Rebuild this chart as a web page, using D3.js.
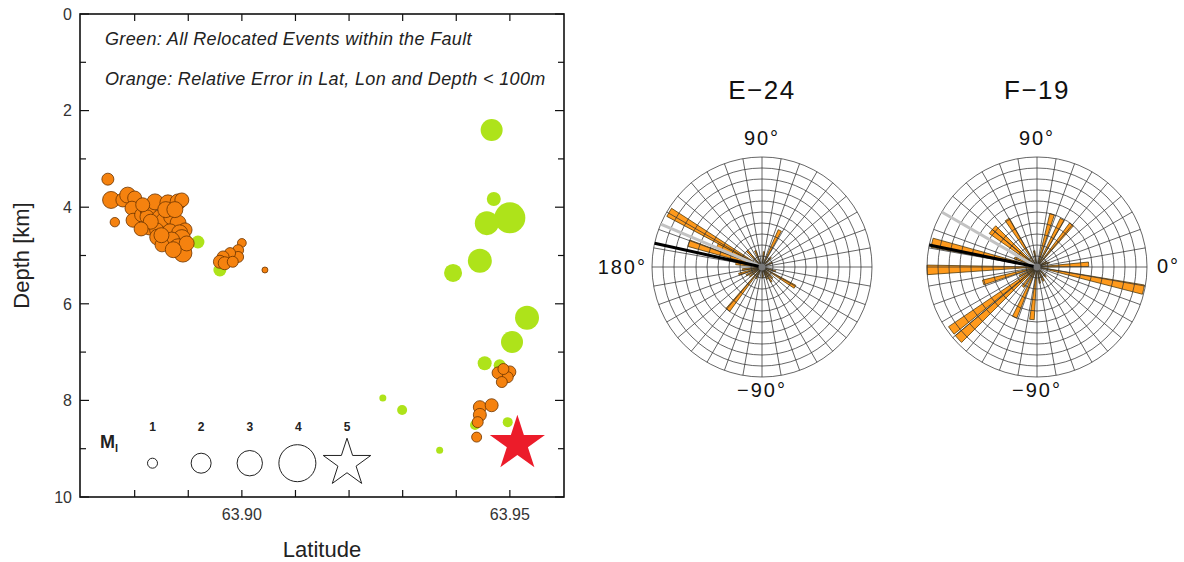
<!DOCTYPE html>
<html><head><meta charset="utf-8">
<script src="https://cdn.jsdelivr.net/npm/d3@7"></script>
<style>
body{margin:0;background:#fff}
svg{display:block;font-family:"Liberation Sans",Arial,Helvetica,sans-serif}
</style>
</head><body>
<svg id="c" width="1184" height="562"></svg>
<script>
// ---------- data: depth section ----------
const greenLat   = [63.8918,63.8959,63.9466,63.9470,63.9500,63.9457,63.9444,63.9394,63.9532,63.9504,63.9453,63.9481,63.9496,63.9435,63.9369,63.9263,63.9299];
const greenDepth = [4.72,5.30,2.40,3.83,4.22,4.33,5.11,5.36,6.29,6.79,7.23,7.27,8.45,8.51,9.03,7.95,8.20];
const greenMag   = [1.3,1.3,2.37,1.4,3.48,2.74,2.74,1.8,2.74,2.37,1.4,1.2,1.0,1.0,0.5,0.5,1.0];

const orangeLat = [63.8750,63.8756,63.8778,63.8787,63.8800,63.8763,63.8795,63.8797,63.8813,63.8825,63.8838,63.8862,63.8881,63.8888,63.8823,63.8847,63.8853,63.8869,63.8828,63.8841,63.8881,63.8894,63.8866,63.8884,63.8843,63.8888,63.8869,63.8851,63.8881,63.8890,
  63.8815,63.8858,63.8875,63.8830,63.8897,63.8872,63.8812,63.8850,
  63.9000,63.8993,63.8993,63.8978,63.8965,63.8959,63.8968,63.8983,63.9043,
  63.9478,63.9500,63.9496,63.9485,63.9444,63.9466,63.9444,63.9440,63.9438,63.9488];
const orangeDepth = [3.42,3.85,3.85,3.75,3.81,4.31,4.02,4.27,4.16,4.06,3.89,3.91,3.89,3.85,4.20,4.22,4.27,4.20,4.41,4.47,4.33,4.47,4.51,4.53,4.62,4.64,4.68,4.78,4.84,4.95,
  3.95,4.05,4.05,4.30,4.75,4.88,4.45,4.58,
  4.74,4.89,5.03,4.95,5.03,5.13,5.16,5.13,5.30,
  7.43,7.41,7.52,7.62,8.14,8.10,8.30,8.45,8.76,7.35];
const orangeMag = [1.2,1.7,1.4,1.6,1.4,0.9,1.4,1.4,1.4,1.6,1.6,1.6,1.6,1.4,1.4,1.6,1.4,1.6,1.6,1.4,1.6,1.4,1.6,1.6,1.6,1.7,1.6,1.4,1.8,1.8,
  1.4,1.6,1.6,1.5,1.5,1.6,1.4,1.5,
  0.8,1.1,1.1,1.1,1.2,1.3,1.3,1.1,0.33,
  1.2,1.2,1.1,1.1,1.3,1.3,1.3,1.1,1.0,1.1];

const mainLat = [63.9514];
const mainDepth = [8.90];

const latTicks = [63.88,63.89,63.90,63.91,63.92,63.93,63.94,63.95];
const latLabels = ["63.90","63.95"];
const depthTicks = [0,1,2,3,4,5,6,7,8,9,10];
const depthLabels = ["0","2","4","6","8","10"];
const legendMags = [1,2,3,4];
const legendStarMag = 5;

const note1 = "Green: All Relocated Events within the Fault";
const note2 = "Orange: Relative Error in Lat, Lon and Depth < 100m";

// ---------- data: rose diagrams ----------
const roseTitles = ["E\u221224","F\u221219"];
const e24Angle = [149.5,154.5,162,231.5,64,329,187.5,197.5,207.5,217.5,242.5,272.5,292.5,302.5,312.5,342.5,22.5,47.5,82.5,112.5,132.5,172.5];
const e24Value = [9.8,4.5,7.0,5.0,3.7,3.5,1.8,2.2,1.6,1.4,1.2,1.0,1.2,1.6,1.4,1.3,1.0,1.2,1.4,1.6,2.0,2.4];
const e24Gray = 157, e24Black = 167.5;
const f19Angle = [167,181.5,196,216.5,222.5,246,264.5,137.5,142.5,122,74,62,51,3,348,207,235,280,295,312,20,100,158,30];
const f19Value = [9.8,10,5.1,9.7,9.7,5.0,4.8,5.3,5.3,5.1,5.0,4.9,5.0,4.7,9.9,1.8,2.2,1.5,1.4,1.2,1.2,1.5,2.2,1.0];
const f19Gray = 150, f19Black = 168.5;

// ---------- drawing ----------
const svg = d3.select("#c");
svg.append("rect").attr("width",1184).attr("height",562).attr("fill","#fff");

const L = 80, R = 564, T = 14, B = 497;
const x = d3.scaleLinear().domain([63.8698,63.9601]).range([L,R]);
const y = d3.scaleLinear().domain([0,10]).range([T,B]);
const rad = d3.scaleLinear().domain([0,1,2,3,4]).range([2,5,10,12.7,18.5]);
const ink = "#222";

const gPlot = svg.append("g");

// annotations
gPlot.append("text").attr("x",105).attr("y",45).attr("font-size",18).attr("font-style","italic")
  .attr("letter-spacing",0.35).attr("fill",ink).text(note1);
gPlot.append("text").attr("x",105).attr("y",85).attr("font-size",18).attr("font-style","italic")
  .attr("letter-spacing",0.35).attr("fill",ink).text(note2);

// green events
gPlot.append("g").selectAll("circle").data(greenLat).join("circle")
  .attr("cx",(d)=>x(d)).attr("cy",(d,i)=>y(greenDepth[i])).attr("r",(d,i)=>rad(greenMag[i]))
  .attr("fill","#aee31a");
// orange events
gPlot.append("g").selectAll("circle").data(orangeLat).join("circle")
  .attr("cx",(d)=>x(d)).attr("cy",(d,i)=>y(orangeDepth[i])).attr("r",(d,i)=>rad(orangeMag[i]))
  .attr("fill","#f5820f").attr("stroke","#6b3300").attr("stroke-width",0.8);
// mainshock star
const starSize = (Rout)=>Rout*Rout/0.8908130915;
gPlot.append("g").selectAll("path").data(mainLat).join("path")
  .attr("transform",(d,i)=>`translate(${x(d)},${y(mainDepth[i])})`)
  .attr("d",d3.symbol(d3.symbolStar, starSize(29)))
  .attr("fill","#ec1c2a");

// legend
const legY = y(9.3), labY = 431;
const legX = d3.scaleLinear().domain([1,5]).range([152.5,347]);
gPlot.append("text").attr("x",100).attr("y",448).attr("font-size",18).attr("font-weight","bold").attr("fill",ink)
  .text("M").append("tspan").attr("font-size",11).attr("dy",4).text("l");
gPlot.append("g").selectAll("circle").data(legendMags).join("circle")
  .attr("cx",d=>legX(d)+(d===4?-1:0)).attr("cy",legY).attr("r",d=>rad(d))
  .attr("fill","none").attr("stroke",ink).attr("stroke-width",1);
gPlot.append("path").attr("transform",`translate(${legX(legendStarMag)},${legY})`)
  .attr("d",d3.symbol(d3.symbolStar, starSize(25))).attr("fill","#fff").attr("stroke",ink).attr("stroke-width",1);
gPlot.append("g").selectAll("text").data(legendMags.concat([legendStarMag])).join("text")
  .attr("x",d=>legX(d)).attr("y",labY).attr("text-anchor","middle").attr("font-size",12)
  .attr("font-weight","bold").attr("fill",ink).text(d=>d);

// frame
gPlot.append("rect").attr("x",L).attr("y",T).attr("width",R-L).attr("height",B-T)
  .attr("fill","none").attr("stroke","#111").attr("stroke-width",1.6);
const xt = gPlot.append("g").attr("stroke","#111").attr("stroke-width",1.2);
latTicks.forEach(v=>{
  xt.append("line").attr("x1",x(v)).attr("x2",x(v)).attr("y1",B).attr("y2",B-7);
  xt.append("line").attr("x1",x(v)).attr("x2",x(v)).attr("y1",T).attr("y2",T+7);
});
depthTicks.forEach(v=>{
  const len = v%2===0 ? 9 : 6;
  xt.append("line").attr("x1",L).attr("x2",L+len).attr("y1",y(v)).attr("y2",y(v));
  xt.append("line").attr("x1",R).attr("x2",R-len).attr("y1",y(v)).attr("y2",y(v));
});
gPlot.append("g").selectAll("text").data(latLabels).join("text")
  .attr("x",d=>x(+d)).attr("y",520).attr("text-anchor","middle").attr("font-size",16).attr("fill","#333").text(d=>d);
gPlot.append("g").selectAll("text").data(depthLabels).join("text")
  .attr("x",72).attr("y",d=>y(+d)).attr("dy","0.36em").attr("text-anchor","end").attr("font-size",16).attr("fill","#333").text(d=>d);
gPlot.append("text").attr("x",(L+R)/2).attr("y",557).attr("text-anchor","middle").attr("font-size",22).attr("fill",ink).text("Latitude");
gPlot.append("text").attr("transform",`translate(29,${(T+B)/2}) rotate(-90)`).attr("text-anchor","middle")
  .attr("font-size",22).attr("fill",ink).text("Depth [km]");

// ---------- rose diagrams ----------
const RR = 110;
const rs = d3.scaleLinear().domain([0,10]).range([0,RR]);
const toRad = a => a*Math.PI/180;
function rose(cx, cy, title, angles, values, grayA, blackA, showLeft, showRight){
  const g = svg.append("g").attr("transform",`translate(${cx},${cy})`);
  const arc = d3.arc().innerRadius(0);
  g.append("g").selectAll("path").data(angles).join("path")
    .attr("d",(a,i)=>arc({outerRadius:rs(values[i]), startAngle:toRad(90-(a+2.5)), endAngle:toRad(90-(a-2.5))}))
    .attr("fill","#ff9a1c").attr("stroke","#3a2a00").attr("stroke-width",0.7);
  const grid = g.append("g").attr("fill","none").attr("stroke","#333").attr("stroke-width",0.75);
  grid.selectAll("circle").data(d3.range(1,11)).join("circle").attr("r",d=>rs(d));
  grid.selectAll("line").data(d3.range(0,360,10)).join("line")
    .attr("x1",0).attr("y1",0).attr("x2",a=>RR*Math.cos(toRad(a))).attr("y2",a=>-RR*Math.sin(toRad(a)));
  g.append("line").attr("x1",0).attr("y1",0).attr("x2",RR*Math.cos(toRad(grayA))).attr("y2",-RR*Math.sin(toRad(grayA)))
    .attr("stroke","#c2c2c2").attr("stroke-width",3);
  g.append("line").attr("x1",0).attr("y1",0).attr("x2",RR*Math.cos(toRad(blackA))).attr("y2",-RR*Math.sin(toRad(blackA)))
    .attr("stroke","#000").attr("stroke-width",3);
  g.append("circle").attr("r",3.5).attr("fill","#777");
  g.append("text").attr("x",0).attr("y",-168).attr("text-anchor","middle").attr("font-size",26).attr("letter-spacing",1.5).attr("fill","#111").text(title);
  g.append("text").attr("x",0).attr("y",-122).attr("text-anchor","middle").attr("font-size",20).attr("letter-spacing",2).attr("fill","#111").text("90°");
  g.append("text").attr("x",0).attr("y",130).attr("text-anchor","middle").attr("font-size",20).attr("letter-spacing",2).attr("fill","#111").text("\u221290°");
  if(showLeft) g.append("text").attr("x",-115).attr("y",7).attr("text-anchor","end").attr("font-size",20).attr("letter-spacing",2).attr("fill","#111").text("180°");
  if(showRight) g.append("text").attr("x",120).attr("y",6).attr("text-anchor","start").attr("font-size",20).attr("letter-spacing",2).attr("fill","#111").text("0°");
}
rose(762,267,roseTitles[0],e24Angle,e24Value,e24Gray,e24Black,true,false);
rose(1037,267,roseTitles[1],f19Angle,f19Value,f19Gray,f19Black,false,true);
</script>
</body></html>
